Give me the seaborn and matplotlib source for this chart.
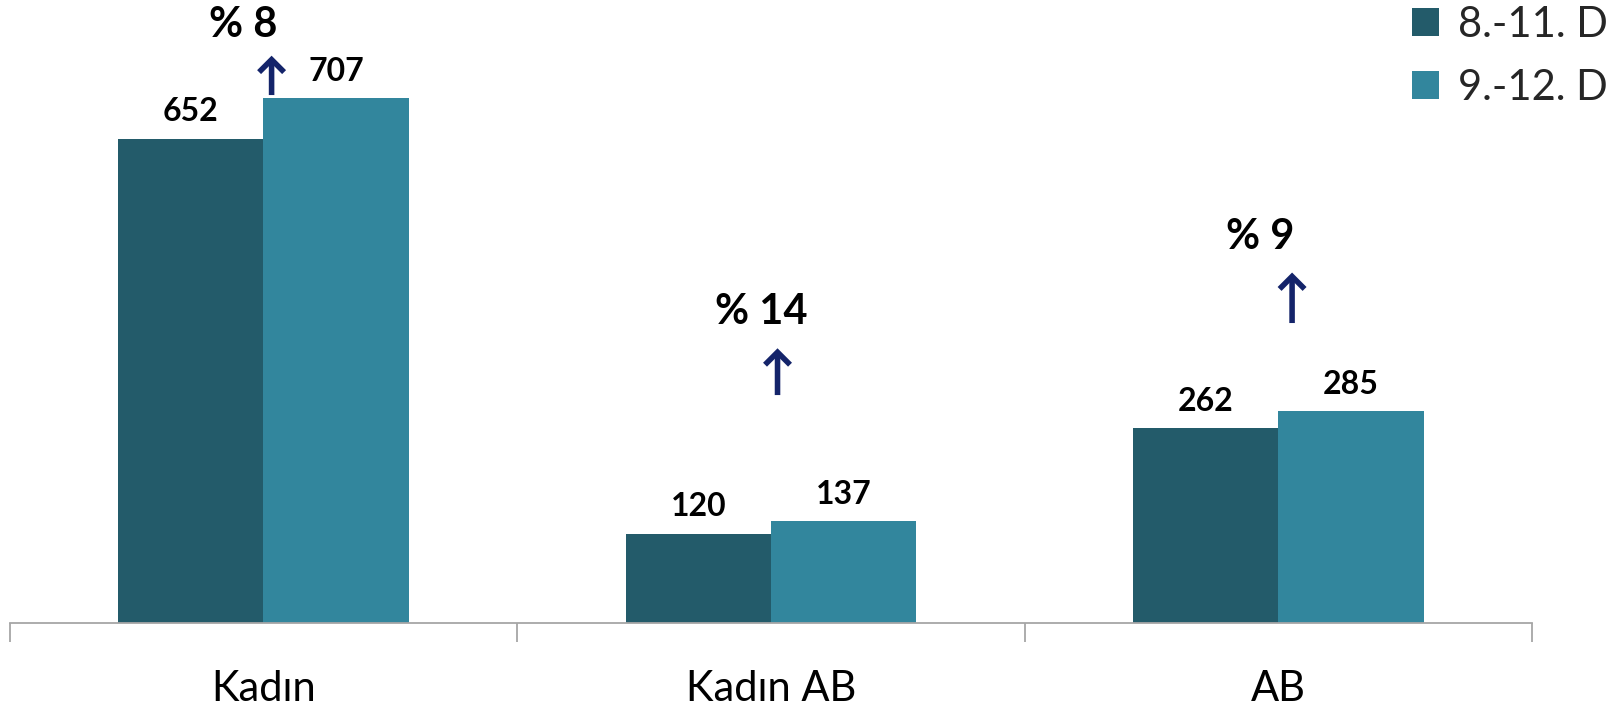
import matplotlib.pyplot as plt
import pandas as pd
import seaborn as sns

sns.set_theme(style="white")
plt.rcParams["font.family"] = ["Lato", "DejaVu Sans"]

categories = ["Kadın", "Kadın AB", "AB"]
series = ["8.-11. D", "9.-12. D"]
values_a = [652, 120, 262]
values_b = [707, 137, 285]
changes = ["% 8", "% 14", "% 9"]

colors = ["#235B6A", "#32869D"]

df = pd.DataFrame({
    "Kategori": categories * 2,
    "Dönem": [series[0]] * 3 + [series[1]] * 3,
    "Değer": values_a + values_b,
})

fig = plt.figure(figsize=(16.23, 7.08), dpi=100)
ax = fig.add_axes([0.006, 0.12, 0.938, 0.88])

sns.barplot(data=df, x="Kategori", y="Değer", hue="Dönem", palette=colors,
            width=0.572, saturation=1, linewidth=0, ax=ax, legend=True)

for cont in ax.containers:
    ax.bar_label(cont, padding=9, fontsize=23, fontweight="bold", color="black")

# change arrows + percentages
arrow_pos = [(0.016, 711, 764), (0.013, 307, 370), (0.027, 404, 472)]
text_pos = [(-0.04, 806), (-0.02, 419), (-0.035, 520)]
for i, lab in enumerate(changes):
    dx, y0, y1 = arrow_pos[i]
    ax.annotate("", xy=(i + dx, y1), xytext=(i + dx, y0),
                arrowprops=dict(arrowstyle="->,head_length=0.75,head_width=0.75",
                                color="#14246A", lw=4, shrinkA=0, shrinkB=0,
                                joinstyle="miter", capstyle="butt"))
    tx, ty = text_pos[i]
    ax.text(i + tx, ty, lab, ha="center", va="center", fontsize=30,
            fontweight="bold", color="black")

ax.set_xlim(-0.5, 2.5)
ax.set_ylim(0, 839)
ax.set_xlabel("")
ax.set_ylabel("")
ax.set_yticks([])
for s in ["top", "left", "right"]:
    ax.spines[s].set_visible(False)
ax.spines["bottom"].set_color("#A6A6A6")
ax.spines["bottom"].set_linewidth(1.3)
ax.set_xticks([-0.5, 0.5, 1.5, 2.5], minor=True)
ax.tick_params(axis="x", which="minor", length=14, width=1.3, color="#A6A6A6", bottom=True)
ax.tick_params(axis="x", which="major", length=0, pad=34, labelsize=30, labelcolor="black")

ax.legend(loc="upper left", bbox_to_anchor=(0.847, 1.045), bbox_transform=fig.transFigure,
          frameon=False, fontsize=30, handlelength=0.65, handleheight=0.65,
          handletextpad=0.45, labelspacing=0.6)

plt.savefig("out.png", dpi=100)
plt.close()
